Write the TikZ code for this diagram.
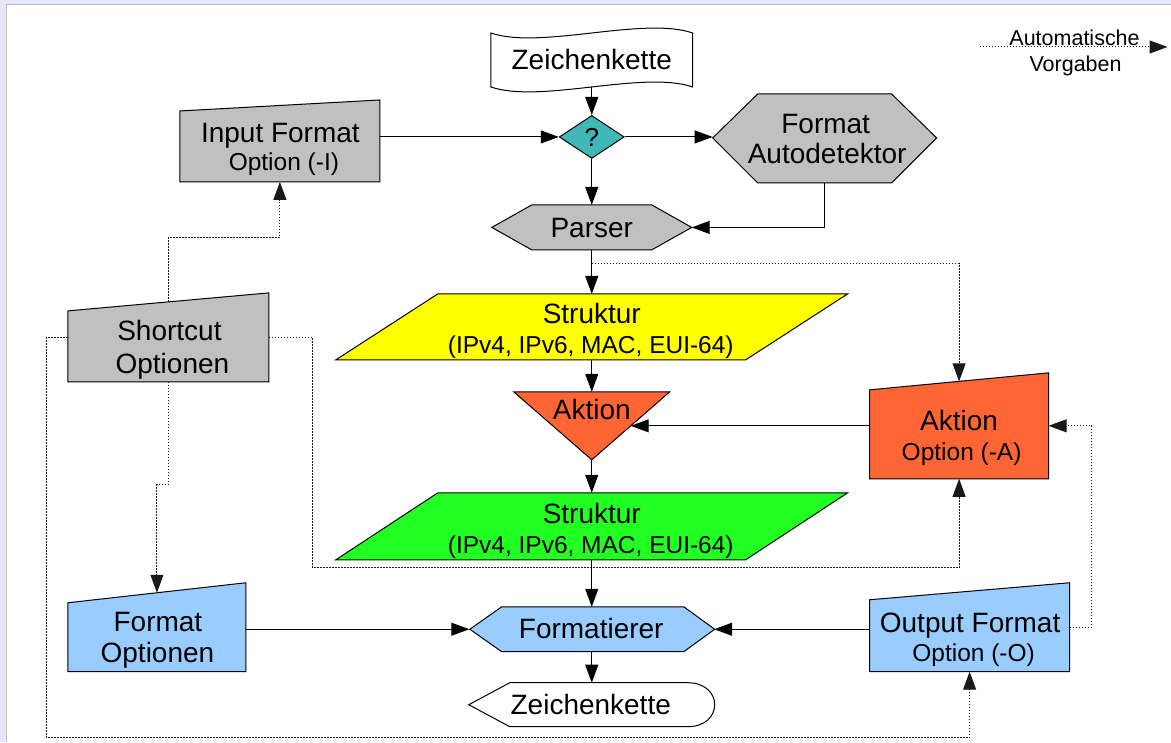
\documentclass[tikz,border=0pt]{standalone}
\usepackage{fontspec}
\setmainfont{Liberation Sans}
\usetikzlibrary{arrows.meta,calc,shapes.geometric}

\definecolor{pagebg}{RGB}{230,230,250}
\definecolor{pageedge}{RGB}{190,190,190}
\definecolor{boxgray}{RGB}{192,192,192}
\definecolor{qteal}{RGB}{64,184,184}
\definecolor{strucyellow}{RGB}{255,255,0}
\definecolor{strucgreen}{RGB}{34,255,34}
\definecolor{actorange}{RGB}{255,102,51}
\definecolor{fmtblue}{RGB}{153,204,255}

\tikzset{
  blk/.style={draw=black, line width=1pt, line join=miter},
  anchorbox/.style={inner sep=0pt, outer sep=0pt, draw=none, fill=none},
  mainline/.style={anchor=base, inner sep=0pt, font=\fontsize{28}{30}\selectfont},
  subline/.style={anchor=base, inner sep=0pt, font=\fontsize{24.5}{28}\selectfont},
  legendline/.style={anchor=base, inner sep=0pt, font=\fontsize{21.5}{24}\selectfont},
  flow/.style={draw=black, line width=1pt, -{Triangle[length=18pt,width=13pt]}},
  dflt/.style={draw=black!90, line width=1pt, dash pattern=on 1.5pt off 1.5pt,
               -{Triangle[length=18pt,width=13pt]}},
}

\begin{document}
\begin{tikzpicture}[x=1pt,y=-1pt]
% page background and frame
\fill[pagebg] (0,0) rectangle (1171,742);
\fill[white] (7,4) rectangle (1171,742);
\draw[pageedge, line width=1pt] (7,742) -- (7,4) -- (1171,4);
\useasboundingbox (0,0) rectangle (1171,742);

% ---------- shapes ----------
% input string (punched tape)
\filldraw[blk, fill=white] (491,33) .. controls (541,50) and (643,16) .. (693,33)
  -- (693,87) .. controls (643,70) and (541,104) .. (491,87) -- cycle;
\node[anchorbox, minimum width=202pt, minimum height=54pt] (ztop) at (592,60) {};
\node[mainline] (ztopT) at (592,70) {Zeichenkette};

% decision
\node[blk, diamond, fill=qteal, minimum width=65pt, minimum height=43pt, inner sep=0pt,
      font=\fontsize{26}{28}\selectfont] (q) at (592,137) {?};

% input format option
\filldraw[blk, fill=boxgray] (180,182) -- (180,111) -- (380,100) -- (380,182) -- cycle;
\node[anchorbox, minimum width=200pt, minimum height=82pt] (inp) at (280,141) {};
\node[mainline] (inpT1) at (280.5,143) {Input Format};
\node[subline] (inpT2) at (284,171) {Option (-I)};

% format autodetector
\filldraw[blk, fill=boxgray] (713,138) -- (758,94) -- (892,94) -- (937,138) -- (892,183) -- (758,183) -- cycle;
\node[anchorbox, minimum width=224pt, minimum height=89pt] (auto) at (825,138.5) {};
\node[mainline] (autoT1) at (826,134) {Format};
\node[mainline] (autoT2) at (827.5,164) {Autodetektor};

% parser
\filldraw[blk, fill=boxgray] (492,227.5) -- (532,205) -- (652,205) -- (692,227.5) -- (652,250) -- (532,250) -- cycle;
\node[anchorbox, minimum width=200pt, minimum height=45pt] (parser) at (592,227.5) {};
\node[mainline] (parserT) at (592,238) {Parser};

% parsed structure
\filldraw[blk, fill=strucyellow] (336,360) -- (438,294) -- (848,294) -- (746,360) -- cycle;
\node[anchorbox, minimum width=512pt, minimum height=66pt] (s1) at (592,327) {};
\node[mainline] (s1T1) at (592,324) {Struktur};
\node[subline] (s1T2) at (591,354) {(IPv4, IPv6, MAC, EUI-64)};

% action
\filldraw[blk, fill=actorange] (514,392) -- (670,392) -- (592,460) -- cycle;
\node[anchorbox, minimum width=156pt, minimum height=68pt] (akt) at (592,426) {};
\node[mainline] (aktT) at (592,420) {Aktion};
\coordinate (aktR) at ($(670,392)!0.5!(592,460)$);

% action option
\filldraw[blk, fill=actorange] (870,479) -- (870,390) -- (1049,373) -- (1049,479) -- cycle;
\node[anchorbox, minimum width=179pt, minimum height=106pt] (aopt) at (959.5,426) {};
\node[mainline] (aoptT1) at (959.5,431) {Aktion};
\node[subline] (aoptT2) at (962,461) {Option (-A)};
\coordinate (aoptTop) at ($(870,390)!0.5!(1049,373)$);

% transformed structure
\filldraw[blk, fill=strucgreen] (336,560) -- (438,493) -- (848,493) -- (746,560) -- cycle;
\node[anchorbox, minimum width=512pt, minimum height=67pt] (s2) at (592,526.5) {};
\node[mainline] (s2T1) at (592,524) {Struktur};
\node[subline] (s2T2) at (591,554) {(IPv4, IPv6, MAC, EUI-64)};

% format options
\filldraw[blk, fill=fmtblue] (68,672) -- (68,603) -- (246,583) -- (246,672) -- cycle;
\node[anchorbox, minimum width=178pt, minimum height=89pt] (fopt) at (157,627.5) {};
\node[mainline] (foptT1) at (158,632) {Format};
\node[mainline] (foptT2) at (157.5,663) {Optionen};
\coordinate (foptTop) at ($(68,603)!0.5!(246,583)$);

% formatter
\filldraw[blk, fill=fmtblue] (470,629.5) -- (502,607) -- (684,607) -- (715,629.5) -- (684,652) -- (502,652) -- cycle;
\node[anchorbox, minimum width=245pt, minimum height=45pt] (fmt) at (592,629.5) {};
\node[mainline] (fmtT) at (591.5,639) {Formatierer};

% output format option
\filldraw[blk, fill=fmtblue] (870,672) -- (870,600) -- (1070,583) -- (1070,672) -- cycle;
\node[anchorbox, minimum width=200pt, minimum height=89pt] (oopt) at (970,627.5) {};
\node[mainline] (ooptT1) at (970.5,633) {Output Format};
\node[subline] (ooptT2) at (974,662) {Option (-O)};

% output string (display)
\filldraw[blk, fill=white] (469,705) -- (510,683) -- (688,683)
  .. controls (706,683) and (715,694) .. (715,705)
  .. controls (715,716) and (706,727) .. (688,727) -- (510,727) -- cycle;
\node[anchorbox, minimum width=246pt, minimum height=44pt] (zbot) at (592,705) {};
\node[mainline] (zbotT) at (591,715) {Zeichenkette};

% shortcut options
\filldraw[blk, fill=boxgray] (68,382) -- (68,311) -- (269,293) -- (269,382) -- cycle;
\node[anchorbox, minimum width=201pt, minimum height=89pt] (sc) at (168.5,337.5) {};
\node[mainline] (scT1) at (169.5,341) {Shortcut};
\node[mainline] (scT2) at (172.5,374) {Optionen};
\coordinate (scTop) at ($(68,311)!0.5!(269,293)$);

% ---------- main flow ----------
\draw[flow] (ztop.south) -- (q.north);
\draw[flow] (inp.east |- q.west) -- (q.west);
\draw[flow] (q.east) -- (q.east -| auto.west);
\draw[flow] (q.south) -- (parser.north);
\draw[flow] (auto.south) |- (parser.east);
\draw[flow] (parser.south) -- (s1.north);
\draw[flow] (s1.south) -- (akt.north);
\draw[flow] (aopt.west) -- (aktR);
\draw[flow] (akt.south) -- (s2.north);
\draw[flow] (s2.south) -- (fmt.north);
\draw[flow] (fopt.east |- fmt.west) -- (fmt.west);
\draw[flow] (oopt.west |- fmt.east) -- (fmt.east);
\draw[flow] (fmt.south) -- (zbot.north);

% ---------- automatic defaults ----------
\draw[dflt] (scTop) -- ++(0,-64) -| (inp.south);
\draw[dflt] ($(parser.south)+(0,14)$) -| (aoptTop);
\draw[dflt] (sc.east) -- ++(44,0) |- ($(aopt.south)+(0,89)$) -- (aopt.south);
\draw[dflt] (sc.south) -- ++(0,103) -| (foptTop);
\draw[dflt] (sc.west) -- ++(-21,0) |- ($(oopt.south)+(0,66)$) -- (oopt.south);
\draw[dflt] (oopt.east) -- ++(22,0) |- (aopt.east);

% ---------- legend ----------
\coordinate (lgL) at (980,47);
\coordinate (lgR) at (1168,47);
\draw[dflt] (lgL) -- (lgR);
\node[legendline] (lgT1) at (1075,46) {Automatische};
\node[legendline] (lgT2) at (1076,72) {Vorgaben};
\end{tikzpicture}
\end{document}
